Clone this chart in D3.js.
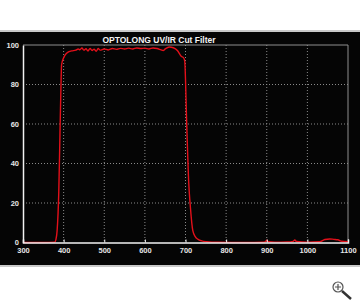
<!DOCTYPE html>
<html>
<head>
<meta charset="utf-8">
<script src="https://cdn.jsdelivr.net/npm/d3@7"></script>
<style>
  body { margin: 0; background: #fff; }
  svg { display: block; }
</style>
</head>
<body>
<script>
// chart values
var title = "OPTOLONG UV/IR Cut Filter";
var xTicks = [300, 400, 500, 600, 700, 800, 900, 1000, 1100];
var yTicks = [0, 20, 40, 60, 80, 100];

var wavelength = [300, 350, 378, 381, 384, 388, 391, 393, 395, 400, 405, 410, 420, 430, 436,
                  440, 445, 450, 455, 460, 465, 470, 475, 480, 485, 490, 500, 510, 520, 530,
                  540, 550, 560, 570, 580, 590, 600, 610, 620, 630, 640, 645, 650, 660, 670,
                  680, 690, 695, 698, 703, 708, 712, 718, 724, 731, 740, 752, 780, 850, 890,
                  897, 900, 903, 920, 950, 965, 969, 973, 1000, 1030, 1043, 1055, 1065, 1075,
                  1085, 1100];
var transmission = [0, 0, 0.2, 1.5, 6, 25, 55, 75, 90, 93.5, 95.3, 96.3, 97, 97.4, 98,
                    97.6, 98.5, 97.4, 98.1, 97, 98.3, 97.2, 97.9, 96.8, 98.2, 97.4, 98, 97.5, 98.2, 97.8,
                    98.3, 98, 98.4, 98, 98.5, 98.2, 98.4, 98, 98.5, 98.2, 97.5, 97.2, 98, 99, 98.6,
                    97.2, 94.2, 93.6, 92, 60, 30, 18, 6, 3, 1.6, 0.8, 0.4, 0.1, 0, 0.1,
                    0.4, 1.2, 0.4, 0.2, 0.3, 0.6, 1.3, 0.5, 0.2, 0.4, 1.5, 1.8, 1.6, 1.4,
                    0.6, 0.4];

var w = 360,
    h = 300;

var svg = d3.select("body").append("svg")
    .attr("width", w)
    .attr("height", h);

// black panel with light edges
svg.append("rect")
    .attr("x", 0).attr("y", 30)
    .attr("width", w).attr("height", 237)
    .attr("fill", "#c9c9c9");
svg.append("rect")
    .attr("x", 0).attr("y", 32)
    .attr("width", w).attr("height", 233)
    .attr("fill", "#050505");

var x = d3.scaleLinear().domain([300, 1100]).range([23, 348]);
var y = d3.scaleLinear().domain([0, 100]).range([242.5, 45]);

// dotted grid
svg.append("g")
    .selectAll("line")
    .data(xTicks.slice(1, -1))
    .enter().append("line")
    .attr("x1", (d) => x(d)).attr("x2", (d) => x(d))
    .attr("y1", y(100)).attr("y2", y(0))
    .attr("stroke", "#8a8a8a")
    .attr("stroke-width", 1)
    .attr("stroke-dasharray", "1,2");

svg.append("g")
    .selectAll("line")
    .data(yTicks.slice(1, -1))
    .enter().append("line")
    .attr("x1", x(300)).attr("x2", x(1100))
    .attr("y1", (d) => y(d)).attr("y2", (d) => y(d))
    .attr("stroke", "#8a8a8a")
    .attr("stroke-width", 1)
    .attr("stroke-dasharray", "1,2");

// top and right frame
svg.append("path")
    .attr("d", "M" + x(300) + "," + y(100) + "H" + x(1100) + "V" + y(0))
    .attr("fill", "none")
    .attr("stroke", "#8f8f8f")
    .attr("stroke-width", 1);

// transmission curve
var pts = wavelength.map((d, i) => [d, transmission[i]]);
var line = d3.line()
    .x((d) => x(d[0]))
    .y((d) => y(d[1]))
    .curve(d3.curveMonotoneX);

svg.append("path")
    .datum(pts)
    .attr("d", line)
    .attr("fill", "none")
    .attr("stroke", "#e3101a")
    .attr("stroke-width", 1.4)
    .attr("stroke-linejoin", "round");

// axes drawn on top so the zero part of the curve hides behind them
var xAxis = svg.append("g")
    .attr("transform", "translate(0," + y(0) + ")")
    .call(d3.axisBottom(x).tickValues(xTicks).tickFormat(d3.format("d"))
        .tickSize(-3).tickPadding(6));
var yAxis = svg.append("g")
    .attr("transform", "translate(" + x(300) + ",0)")
    .call(d3.axisLeft(y).tickValues(yTicks).tickSize(0).tickPadding(4));

[xAxis, yAxis].forEach((g) => {
    g.style("color", "#e6e6e6");
    g.select(".domain").attr("stroke", "#f2f2f2").attr("stroke-width", 1.5);
    g.selectAll(".tick line").attr("stroke", "#f2f2f2");
    g.selectAll("text")
        .attr("fill", "#e6e6e6")
        .style("font-family", "Liberation Sans, Arial, sans-serif")
        .style("font-size", "7.5px")
        .style("font-weight", "bold");
});
xAxis.selectAll("text").attr("dy", "0.55em");

// title
svg.append("text")
    .attr("x", 159)
    .attr("y", 42.5)
    .attr("text-anchor", "middle")
    .attr("fill", "#f4f4f4")
    .style("font-family", "Liberation Sans, Arial, sans-serif")
    .style("font-size", "8.5px")
    .style("font-weight", "bold")
    .text(title);

// little magnifier icon bottom right
var icon = svg.append("g").attr("stroke", "#555").attr("fill", "none");
icon.append("circle").attr("cx", 338).attr("cy", 287).attr("r", 5)
    .attr("fill", "#fafafa").attr("stroke-width", 1.2);
icon.append("path").attr("d", "M335,287H341M338,284V290").attr("stroke-width", 1.2);
icon.append("path").attr("d", "M342,291L351,299").attr("stroke", "#333").attr("stroke-width", 2.5);
</script>
</body>
</html>
